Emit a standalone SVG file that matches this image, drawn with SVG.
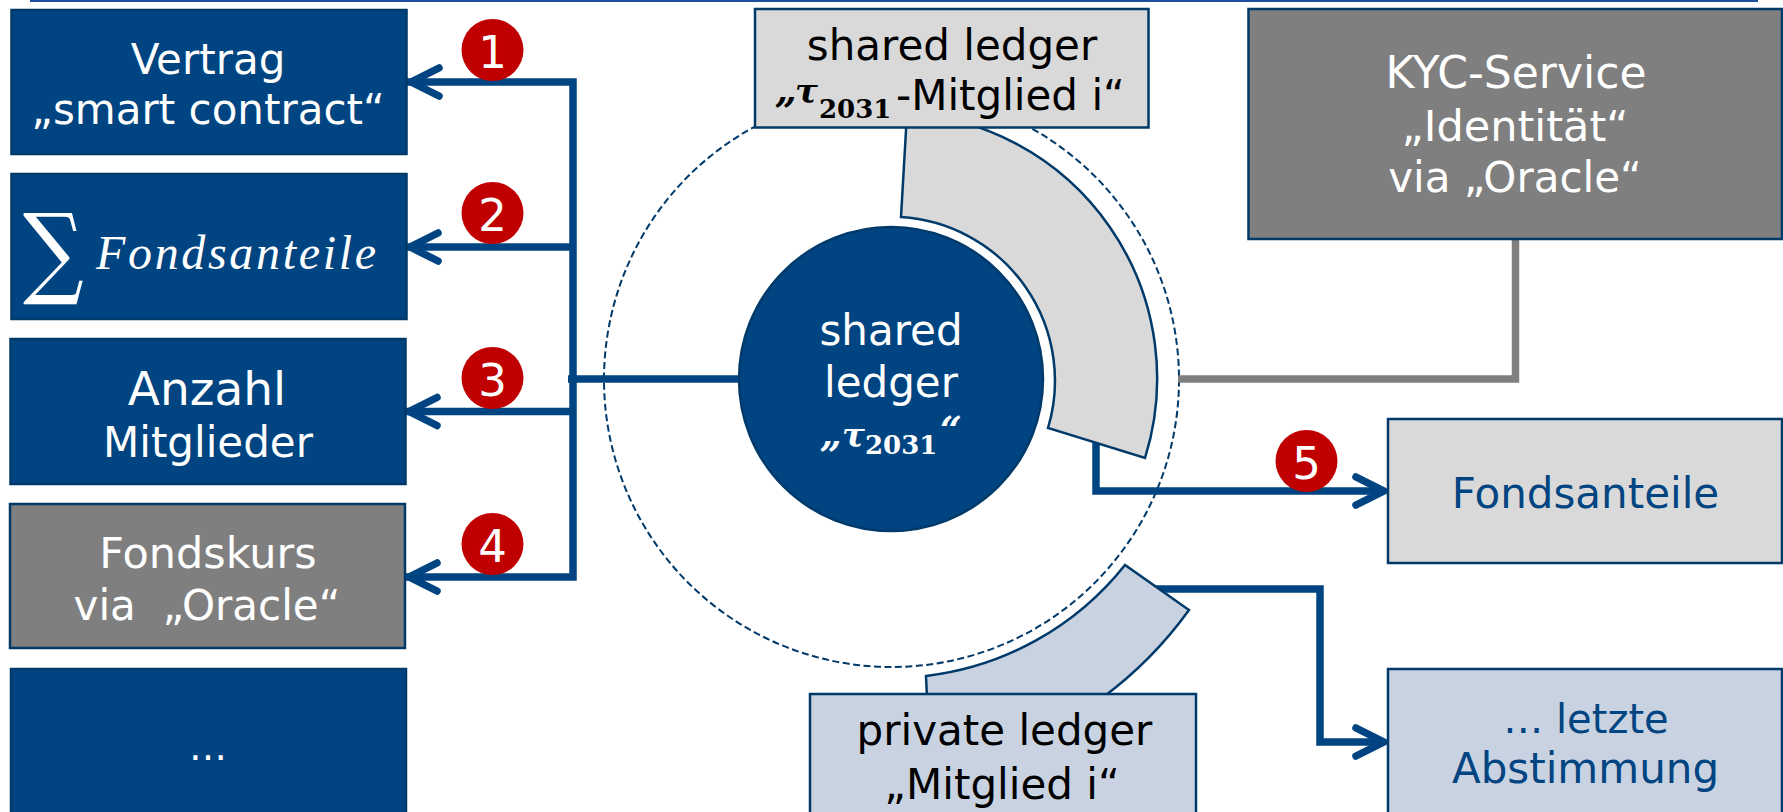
<svg xmlns="http://www.w3.org/2000/svg" width="1783" height="812" viewBox="0 0 1783 812">
<style>
.t{font-family:"DejaVu Sans",Verdana,sans-serif;font-size:42px;text-anchor:middle;white-space:pre}
.w{fill:#fff}.k{fill:#000}.b{fill:#004481}
.m{font-family:"DejaVu Serif",serif;font-weight:bold;font-size:34px;font-style:italic}
.d{font-family:"DejaVu Serif",serif;font-weight:bold;font-size:26px}
.q{font-family:"DejaVu Serif",serif;font-weight:bold;font-size:38px;font-style:italic}
.n{stroke:#003a6a;stroke-width:2.5}
.navy{fill:#004481}.grey{fill:#7f7f7f}.lg{fill:#d9d9d9}.lb{fill:#c8d2e1}
.c{fill:none;stroke:#004481;stroke-width:7.5}
.h{fill:none;stroke:#004481;stroke-width:7.5;stroke-linecap:round;stroke-linejoin:round}
.bd{fill:#c00000}.bt{font-family:"DejaVu Sans",sans-serif;font-size:45px;fill:#fff;text-anchor:middle}
</style>
<rect x="30" y="0" width="1728" height="2" fill="#1f4e9c"/>
<g id="ring"><circle cx="891.5" cy="379.5" r="287.5" fill="none" stroke="#003a6a" stroke-width="2" stroke-dasharray="7 3.500"/></g>
<g id="connectors">
<path class="c" d="M407 82H573V577H405M406 247H573M405 411.500H573M568 379H745"/>
<path class="h" d="M439 68L411 82L439 96M438 233L410 247L438 261M437 397.500L409 411.500L437 425.500M437 563L409 577L437 591"/>
<path fill="none" stroke="#7f7f7f" stroke-width="7.5" d="M1178 379H1515.500V239"/>
<path class="c" d="M1096 440V491H1384"/>
<path class="h" d="M1356 477L1384 491L1356 505"/>
<path class="c" d="M1150 589H1320V742H1384"/>
<path class="h" d="M1356 728L1384 742L1356 756"/>
</g>
<g id="sector-shared"><path class="lg n" d="M901 217A164 164 0 0 1 1048 428L1145 458A266 266 0 0 0 907 113Z"/></g>
<g id="sector-private"><path class="lb n" d="M1125 565A299 299 0 0 1 926 676L927 698H1102A400 400 0 0 0 1189 610Z"/></g>
<g id="center"><circle cx="891" cy="379" r="152" class="navy n"/>
<text class="t w" x="891" y="345">shared</text><text class="t w" x="891" y="397">ledger</text>
<text class="q w" x="820" y="447">„</text><text class="m w" x="842" y="447">τ</text><text class="d w" x="865" y="454">2031</text><text class="q w" x="940" y="443">“</text></g>
<g id="n-vertrag"><rect class="navy n" x="11.5" y="10" width="395" height="144"/><text class="t w" x="208" y="74">Vertrag</text><text class="t w" x="208" y="124">„smart contract“</text></g>
<g id="n-fonds"><rect class="navy n" x="11.5" y="174" width="395" height="145"/><text font-family="DejaVu Serif,serif" font-style="italic" class="w" font-size="100" transform="translate(23 285) scale(.85 1)">∑</text><text font-family="Liberation Serif,serif" font-style="italic" class="w" font-size="48" x="96" y="269" textLength="280">Fondsanteile</text></g>
<g id="n-anzahl"><rect class="navy n" x="10.5" y="339" width="395" height="145"/><text class="t w" style="font-size:47px" x="207" y="405">Anzahl</text><text class="t w" x="208" y="457">Mitglieder</text></g>
<g id="n-kurs"><rect class="grey n" x="10" y="504" width="395" height="144"/><text class="t w" style="font-size:43px" x="208" y="568">Fondskurs</text><text class="t w" x="207" y="620">via  „Oracle“</text></g>
<g id="n-more"><rect class="navy n" x="11" y="669" width="395" height="150"/><text class="t w" style="font-size:38px" x="208" y="760">…</text></g>
<g id="n-shared"><rect class="lg n" x="755" y="9" width="393.500" height="118.500"/><text class="t k" x="952" y="60">shared ledger</text>
<text class="q k" x="775" y="103">„</text><text class="m k" x="795" y="103">τ</text><text class="d k" x="819" y="118">2031</text><text class="t k" style="text-anchor:start" x="896" y="110">-Mitglied i“</text></g>
<g id="n-kyc"><rect x="1248.500" y="9" width="533.500" height="230" class="grey n"/><text class="t w" style="font-size:44px" x="1516" y="88">KYC-Service</text><text class="t w" style="font-size:43px" x="1515" y="141">„Identität“</text><text class="t w" x="1515" y="192">via „Oracle“</text></g>
<g id="n-anteile"><rect class="lg n" x="1388" y="419" width="394" height="144"/><text class="t b" x="1585.500" y="508">Fondsanteile</text></g>
<g id="n-private"><rect class="lb n" x="810" y="694" width="386" height="130"/><text class="t k" x="1004.500" y="745">private ledger</text><text class="t k" x="1002" y="799">„Mitglied i“</text></g>
<g id="n-abst"><rect class="lb n" x="1388" y="669" width="394" height="150"/><text class="t b" style="font-size:40px" x="1586" y="733">… letzte</text><text class="t b" x="1585.500" y="783">Abstimmung</text></g>
<g id="badges">
<circle class="bd" cx="492.500" cy="50" r="31"/><text class="bt" x="492.500" y="68">1</text>
<circle class="bd" cx="492.500" cy="213" r="31"/><text class="bt" x="492.500" y="231">2</text>
<circle class="bd" cx="492.500" cy="378" r="31"/><text class="bt" x="492.500" y="396">3</text>
<circle class="bd" cx="492.500" cy="544" r="31"/><text class="bt" x="492.500" y="562">4</text>
<circle class="bd" cx="1306.500" cy="461" r="31"/><text class="bt" x="1306.500" y="479">5</text>
</g>
</svg>
